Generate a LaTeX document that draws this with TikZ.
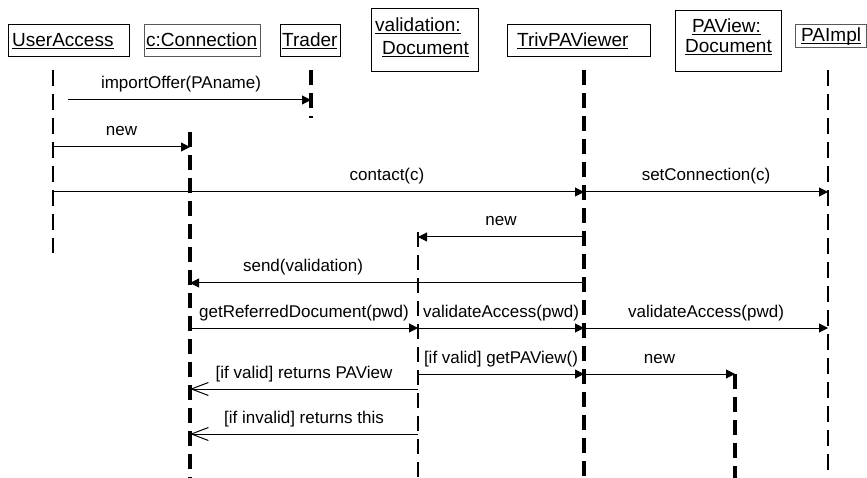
\documentclass[tikz,border=0pt]{standalone}
\usepackage{fontspec}
\setmainfont{Liberation Sans}
\usetikzlibrary{arrows.meta}
\newcommand\objname[1]{\underline{\smash{#1}}}
\begin{document}
\begin{tikzpicture}[x=1pt,y=-1pt,
  objbox/.style={draw=black, line width=1pt, inner sep=0pt, anchor=north west},
  greybox/.style={objbox, draw=black!65},
  objtxt/.style={inner sep=0pt, anchor=base west, font=\fontsize{19}{23}\selectfont},
  lifethin/.style={line width=1.4pt, dash pattern=on 16pt off 8pt},
  lifemid/.style={line width=2.2pt, dash pattern=on 15pt off 8pt},
  lifethick/.style={line width=3.1pt, dash pattern=on 15pt off 8pt},
  msg/.style={line width=1pt, -{Triangle[length=9pt,width=9pt]}},
  ret/.style={line width=1pt, -{Straight Barb[length=17pt,width=13pt,line width=1pt]}},
  lbl/.style={anchor=base, font=\fontsize{17}{20}\selectfont, inner sep=0pt, yshift=11pt}
]
\useasboundingbox (0,0) rectangle (867,478);

% object boxes
\node[objbox, minimum width=121pt, minimum height=32pt] (ua-box) at (8,24) {};
\node[objtxt] (ua-txt) at (12,47) {\objname{UserAccess}};
\node[greybox, minimum width=116pt, minimum height=32pt] (cc-box) at (144,24) {};
\node[objtxt] (cc-txt) at (146,47) {\objname{c:Connection}};
\node[objbox, minimum width=60pt, minimum height=32pt] (tr-box) at (280,24) {};
\node[objtxt] (tr-txt) at (282,47) {\objname{Trader}};
\node[objbox, minimum width=107pt, minimum height=63pt] (vd-box) at (371,8) {};
\node[objtxt] (vd-txt1) at (375,32) {\objname{validation:}};
\node[objtxt] (vd-txt2) at (382,55) {\objname{Document}};
\node[objbox, minimum width=143pt, minimum height=32pt] (tv-box) at (507,24) {};
\node[objtxt] (tv-txt) at (517,47) {\objname{TrivPAViewer}};
\node[objbox, minimum width=106pt, minimum height=61pt] (pv-box) at (675,10) {};
\node[objtxt] (pv-txt1) at (692,33) {\objname{PAView:}};
\node[objtxt] (pv-txt2) at (685,53) {\objname{Document}};
\node[greybox, minimum width=71pt, minimum height=23pt] (pi-box) at (795,24) {};
\node[objtxt] (pi-txt) at (801,42) {\objname{PAImpl}};

% lifelines
\coordinate (ua) at (53,70);   \coordinate (ua-end) at (53,253);
\coordinate (cc) at (190,132); \coordinate (cc-end) at (190,478);
\coordinate (tr) at (311,70);  \coordinate (tr-end) at (311,118);
\coordinate (vd) at (418,232); \coordinate (vd-end) at (418,478);
\coordinate (tv) at (584,70);  \coordinate (tv-end) at (584,478);
\coordinate (pv) at (735,374); \coordinate (pv-end) at (735,478);
\coordinate (pi) at (828,70);  \coordinate (pi-end) at (828,478);

\draw[lifethin]  (ua) -- (ua-end);
\draw[lifethick] (cc) -- (cc-end);
\draw[lifethick] (tr) -- (tr-end);
\draw[lifemid]   (vd) -- (vd-end);
\draw[lifethick] (tv) -- (tv-end);
\draw[lifethick] (pv) -- (pv-end);
\draw[lifethin]  (pi) -- (pi-end);

% messages
\draw[msg] ([xshift=15pt]ua |- 0,100) -- (tr |- 0,100) node[lbl, pos=0.465] {importOffer(PAname)};
\draw[msg] (ua |- 0,147) -- (cc |- 0,147) node[lbl, midway] {new};
\draw[msg] (ua |- 0,192) -- (tv |- 0,192) node[lbl, pos=0.629] {contact(c)};
\draw[msg] (tv |- 0,192) -- (pi |- 0,192) node[lbl, midway] {setConnection(c)};
\draw[msg] (tv |- 0,237) -- (vd |- 0,237) node[lbl, midway] {new};
\draw[msg] (tv |- 0,283) -- (cc |- 0,283) node[lbl, pos=0.713] {send(validation)};
\draw[msg] (cc |- 0,328) -- (vd |- 0,328) node[lbl, midway] {getReferredDocument(pwd)};
\draw[msg] (vd |- 0,328) -- (tv |- 0,328) node[lbl, midway] {validateAccess(pwd)};
\draw[msg] (tv |- 0,328) -- (pi |- 0,328) node[lbl, midway] {validateAccess(pwd)};
\draw[msg] (vd |- 0,374) -- (tv |- 0,374) node[lbl, midway] {[if valid] getPAView()};
\draw[msg] (tv |- 0,374) -- (pv |- 0,374) node[lbl, midway] {new};
\draw[ret] (vd |- 0,389) -- (cc |- 0,389) node[lbl, midway] {[if valid] returns PAView};
\draw[ret] (vd |- 0,434) -- (cc |- 0,434) node[lbl, midway] {[if invalid] returns this};
\end{tikzpicture}
\end{document}
